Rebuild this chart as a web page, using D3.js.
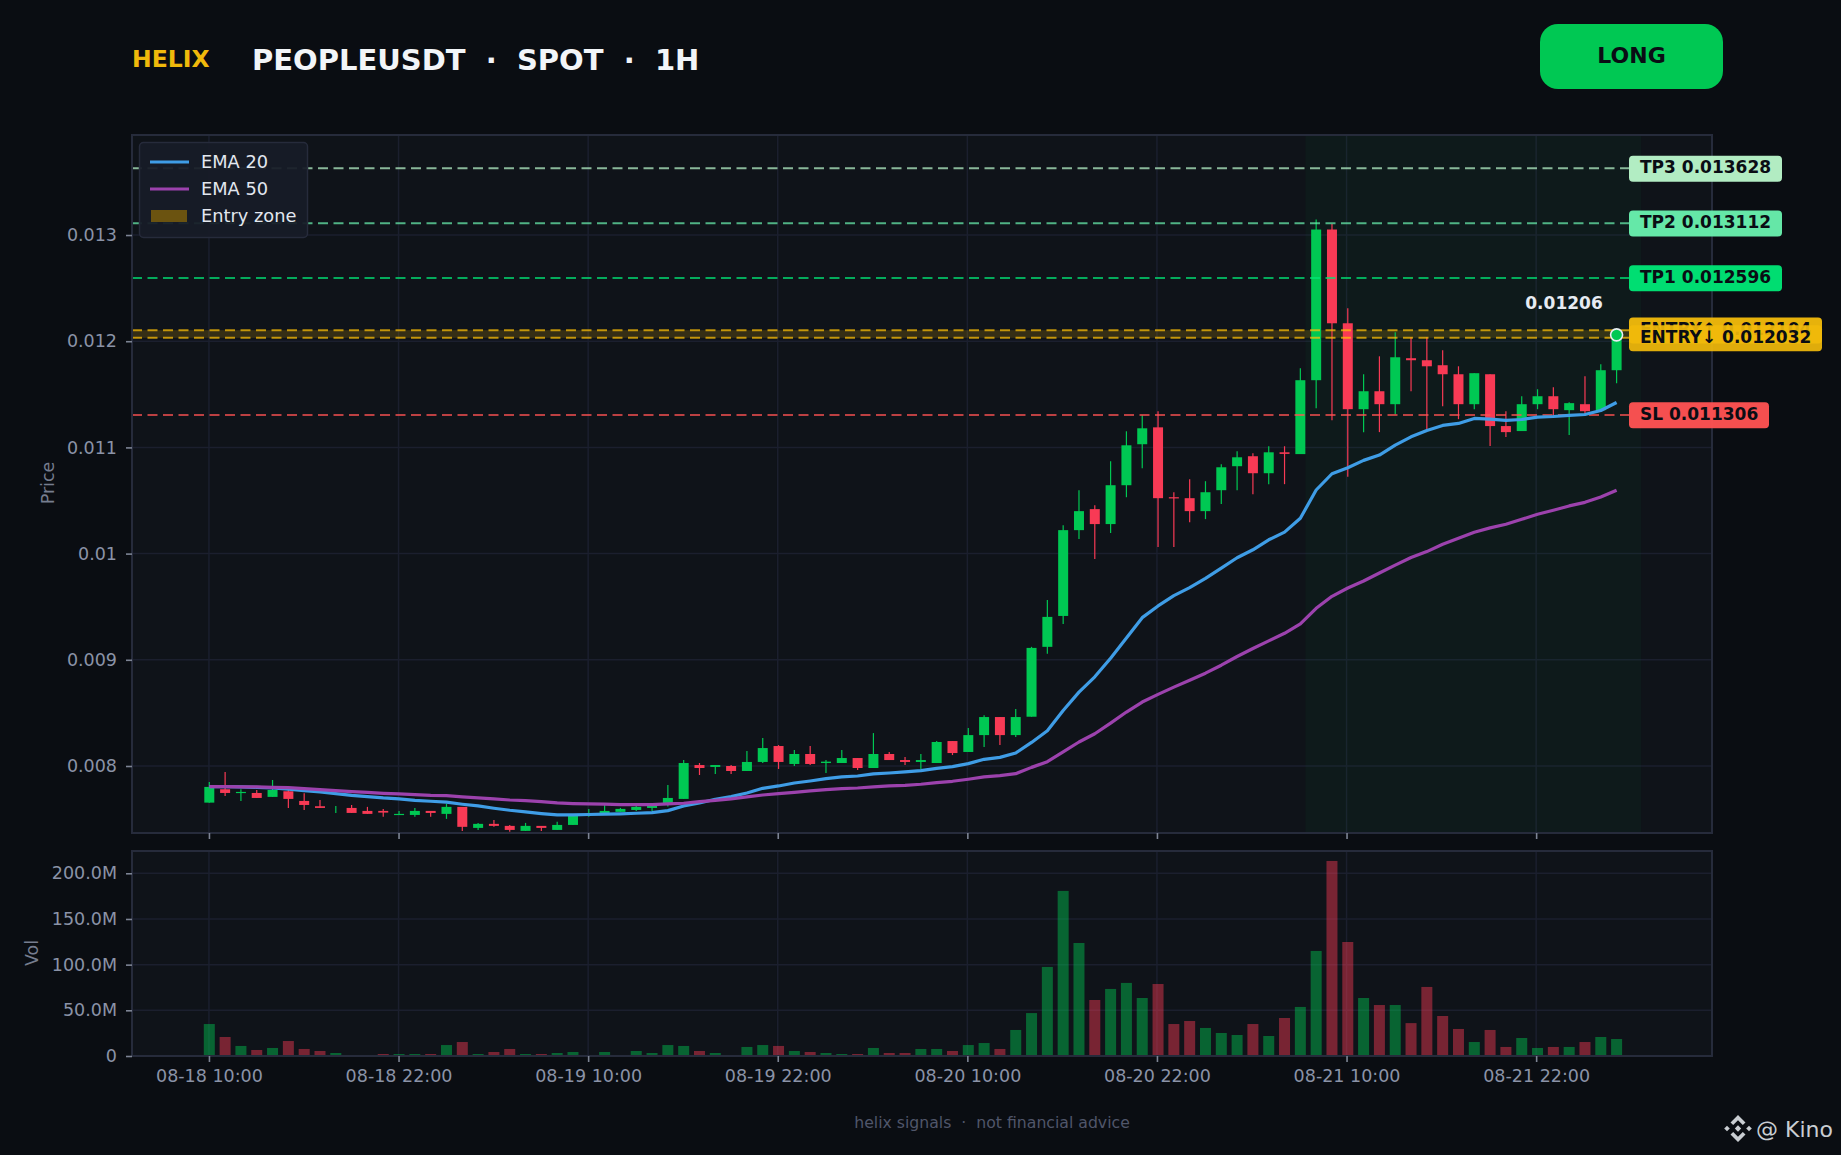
<!DOCTYPE html>
<html><head><meta charset="utf-8">
<script src="https://cdn.jsdelivr.net/npm/d3@7"></script>
<style>
html,body{margin:0;padding:0;background:#0a0d12;}
svg{display:block;font-family:"DejaVu Sans",sans-serif;}
</style></head><body>
<svg id="c" width="1841" height="1155"></svg>
<script>
// prices in millionths (0.008 = 8000)
const opens=[7655,7781,7749,7746,7709,7762,7671,7621,7586,7605,7577,7577,7539,7539,7577,7549,7615,7417,7455,7436,7389,7436,7398,7445,7539,7549,7568,7586,7605,7652,
7690,8009,7991,8000,7953,8038,8188,8019,8113,8028,8028,8075,7981,8113,8056,8038,8028,8235,8132,8291,8461,8291,8464,9122,9413,10221,10419,10278,10644,11030,
11189,10531,10522,10400,10597,10823,10917,10757,10954,10937,11633,13052,12169,11360,11529,11407,11840,11821,11774,11689,11407,11689,11201,11154,11407,11482,11351,11407,11351,11727];
const highs=[7850,7944,7781,7774,7868,7774,7743,7680,7624,7633,7615,7596,7577,7605,7577,7643,7615,7464,7492,7445,7464,7436,7474,7549,7596,7633,7605,7633,7643,7821,
8056,8028,8009,8009,8141,8263,8197,8150,8188,8056,8150,8075,8310,8132,8085,8113,8235,8235,8357,8479,8461,8536,9122,9563,10268,10597,10456,10870,11152,11302,
11340,10578,10701,10682,10842,10964,10945,11011,11011,11746,13146,13105,12310,11689,11858,12084,12037,12037,11915,11764,11699,11689,11341,11482,11548,11567,11426,11670,11783,12060];
const lows=[7655,7718,7671,7699,7709,7605,7586,7605,7558,7558,7549,7521,7539,7521,7521,7502,7389,7398,7427,7380,7389,7389,7398,7445,7521,7549,7568,7577,7577,7618,
7690,7915,7925,7925,7953,8028,7972,8000,8009,7934,8028,7962,7981,8056,8009,7972,8028,8103,8132,8179,8197,8273,8464,9056,9338,10137,9949,10193,10531,10804,
10062,10062,10296,10325,10466,10597,10560,10654,10654,10937,11370,11257,10724,11144,11144,11313,11529,11163,11388,11266,11360,11013,11097,11154,11360,11276,11116,11304,11341,11605];
const closes=[7803,7746,7756,7699,7774,7690,7633,7605,7586,7558,7549,7561,7549,7577,7558,7615,7427,7455,7436,7398,7436,7417,7445,7530,7549,7577,7596,7615,7624,7699,
8028,7981,8009,7953,8038,8169,8038,8113,8019,8041,8075,7981,8113,8056,8038,8056,8226,8122,8291,8461,8291,8461,9112,9404,10221,10400,10278,10644,11020,11180,
10522,10522,10400,10578,10813,10907,10757,10954,10939,11633,13052,12169,11360,11529,11407,11849,11821,11764,11689,11407,11699,11201,11144,11407,11482,11360,11417,11341,11727,12060];
const volumes=[35,20.8,11,6.6,8.8,16.4,7.7,5.5,3.3,0.7,0.7,2.2,2.2,2.2,2.2,12,15.3,2.2,4.4,7.7,2.2,2.2,3.3,4.4,0.7,4.4,0.7,5.5,3.3,12,
11,5.5,3.3,0.7,9.9,12,11,5.5,4.4,3.3,2.2,2.2,8.8,3.3,3.3,7.7,7.7,5.5,12,14.2,7.7,28.5,47,97.5,180.7,123.7,61.3,73.4,80,63.5,
78.8,35,38.3,30.7,25.2,23,35,21.9,41.6,53.7,115,213.5,124.8,63.5,55.8,55.8,36,75.6,43.8,29.6,15.3,28.5,9.9,19.7,8.8,9.9,9.9,15.3,20.8,18.6];
const ema20=[7806,7806,7803,7799,7793,7781,7768,7756,7740,7724,7712,7699,7690,7677,7668,7659,7640,7624,7602,7583,7568,7552,7539,7539,7543,7546,7549,7555,7561,7580,
7624,7652,7687,7712,7746,7790,7812,7840,7859,7881,7897,7906,7925,7934,7944,7956,7978,7994,8022,8063,8081,8122,8222,8332,8523,8696,8840,9015,9206,9397,
9507,9604,9679,9767,9864,9961,10036,10130,10202,10333,10599,10752,10809,10878,10928,11022,11100,11160,11207,11226,11273,11266,11254,11263,11285,11291,11301,11310,11348,11423];
const ema50=[7806,7806,7803,7803,7799,7796,7787,7778,7768,7759,7752,7743,7737,7731,7724,7721,7709,7699,7690,7680,7674,7665,7652,7646,7643,7640,7637,7637,7637,7643,
7649,7665,7677,7690,7709,7727,7740,7752,7765,7778,7787,7793,7803,7812,7818,7828,7843,7856,7875,7897,7909,7928,7987,8041,8132,8226,8304,8404,8508,8602,
8674,8743,8808,8874,8949,9031,9106,9178,9250,9338,9485,9598,9676,9742,9817,9892,9963,10019,10088,10145,10201,10242,10276,10323,10370,10408,10449,10483,10533,10596];
const priceTicks=[8000,9000,10000,11000,12000,13000];
const priceTickLabels=["0.008","0.009","0.01","0.011","0.012","0.013"];
const volTicks=[0,50,100,150,200];
const volTickLabels=["0","50.0M","100.0M","150.0M","200.0M"];
const timeTicks=[0,12,24,36,48,60,72,84];
const timeTickLabels=["08-18 10:00","08-18 22:00","08-19 10:00","08-19 22:00","08-20 10:00","08-20 22:00","08-21 10:00","08-21 22:00"];
const levelNames=["TP3 0.013628","TP2 0.013112","TP1 0.012596","ENTRY↑ 0.012104","ENTRY↓ 0.012032","SL 0.011306"];
const levelValues=[13628,13112,12596,12104,12032,11306];
const levelLineColors=["#b9f6ca","#69f0ae","#00e676","#ffc107","#ffc107","#ff5252"];
const levelBoxColors=["#b9f6ca","#69f0ae","#00e676","#f0b90b","#f0b90b","#ff5252"];
const signalZone=[69.4,90.65];
const lastPrice=12060, lastLabel="0.01206";

const UP="#00c853", DOWN="#f83a55";
const L=132,R=1712,T=135,B=833,VT=851,VB=1056;
const svg=d3.select("#c");
const x=d3.scaleLinear().domain([-4.87,95.13]).range([L,R]);
const xc=d3.scaleLinear().domain([0,89]).range([209.3,1616.6]); // candle centres
const y=d3.scaleLinear().domain([7369,13942]).range([B,T]);
const v=d3.scaleLinear().domain([0,224.4]).range([VB,VT]);

svg.append("rect").attr("width",1841).attr("height",1155).attr("fill","#0a0d12");
svg.append("rect").attr("x",L).attr("y",T).attr("width",R-L).attr("height",B-T).attr("fill","#0f1319");
svg.append("rect").attr("x",L).attr("y",VT).attr("width",R-L).attr("height",VB-VT).attr("fill","#0f1319");

const GRID="#1b1f2e",FRAME="#262b3b",TXT="#8b93a7";
const grid=svg.append("g").attr("stroke",GRID).attr("stroke-width",1.5).attr("fill","none");
grid.selectAll(".gx").data(timeTicks).join("path").attr("d",d=>`M${x(d)},${T}V${B}M${x(d)},${VT}V${VB}`);
grid.selectAll(".gy").data(priceTicks).join("line").attr("x1",L).attr("x2",R).attr("y1",d=>y(d)).attr("y2",d=>y(d));
grid.selectAll(".gv").data(volTicks.slice(1)).join("line").attr("x1",L).attr("x2",R).attr("y1",d=>v(d)).attr("y2",d=>v(d));

svg.append("rect").attr("x",x(signalZone[0])).attr("width",x(signalZone[1])-x(signalZone[0])).attr("y",T).attr("height",B-T).attr("fill","#00c853").attr("fill-opacity",0.04);
svg.append("rect").attr("x",L).attr("width",R-L).attr("y",y(levelValues[3])).attr("height",y(levelValues[4])-y(levelValues[3])).attr("fill","#ffc107").attr("fill-opacity",0.16);

const idx=d3.range(closes.length);
const colorOf=i=>closes[i]>=opens[i]?UP:DOWN;
const cg=svg.append("g");
cg.selectAll(".w").data(idx).join("line").attr("x1",i=>xc(i)).attr("x2",i=>xc(i)).attr("y1",i=>y(highs[i])).attr("y2",i=>y(lows[i])).attr("stroke",colorOf).attr("stroke-width",1.2);
cg.selectAll(".b").data(idx).join("rect").attr("x",i=>xc(i)-5).attr("width",10)
 .attr("y",i=>y(Math.max(opens[i],closes[i]))).attr("height",i=>Math.max(Math.abs(y(opens[i])-y(closes[i])),i===8?0:1.2)).attr("fill",colorOf);

svg.append("g").selectAll("line").data(levelValues).join("line").attr("x1",L).attr("x2",1629).attr("y1",d=>y(d)).attr("y2",d=>y(d))
 .attr("stroke",(d,i)=>levelLineColors[i]).attr("stroke-width",2).attr("stroke-opacity",.72).attr("stroke-dasharray","10 5.5");

const line=d3.line().x((d,i)=>xc(i)).y(d=>y(d));
svg.append("path").attr("d",line(ema20)).attr("fill","none").attr("stroke","#3f9de6").attr("stroke-width",3.2).attr("stroke-linejoin","round");
svg.append("path").attr("d",line(ema50)).attr("fill","none").attr("stroke","#9c42ad").attr("stroke-width",3.2).attr("stroke-linejoin","round");

svg.append("circle").attr("cx",xc(89)).attr("cy",y(lastPrice)).attr("r",6).attr("fill",UP).attr("stroke","#e8edf2").attr("stroke-width",1.6);
svg.append("text").attr("x",1564).attr("y",y(lastPrice)-32).attr("text-anchor","middle").attr("dominant-baseline","central").attr("font-size",17).attr("font-weight","bold").attr("fill","#e6ebf2").text(lastLabel);

svg.append("g").selectAll("rect").data(idx).join("rect").attr("x",i=>xc(i)-5.5).attr("width",11).attr("y",i=>v(volumes[i])).attr("height",i=>VB-v(volumes[i])).attr("fill",colorOf).attr("fill-opacity",.45);

[[T,B],[VT,VB]].forEach(([a,b])=>svg.append("rect").attr("x",L).attr("y",a).attr("width",R-L).attr("height",b-a).attr("fill","none").attr("stroke",FRAME).attr("stroke-width",2));

function style(g){g.select(".domain").remove();g.selectAll(".tick line").attr("stroke","#7d8494").attr("stroke-width",1.6);g.selectAll("text").attr("fill",TXT).attr("font-size",17.5).attr("font-family",'"DejaVu Sans",sans-serif');}
svg.append("g").attr("transform",`translate(${L},0)`).call(d3.axisLeft(y).tickValues(priceTicks).tickFormat((d,i)=>priceTickLabels[i]).tickSize(6).tickPadding(9)).call(style);
svg.append("g").attr("transform",`translate(${L},0)`).call(d3.axisLeft(v).tickValues(volTicks).tickFormat((d,i)=>volTickLabels[i]).tickSize(6).tickPadding(9)).call(style);
svg.append("g").attr("transform",`translate(0,${B})`).call(d3.axisBottom(x).tickValues(timeTicks).tickFormat("").tickSize(6)).call(style);
svg.append("g").attr("transform",`translate(0,${VB})`).call(d3.axisBottom(x).tickValues(timeTicks).tickFormat((d,i)=>timeTickLabels[i]).tickSize(6).tickPadding(8)).call(style);
svg.append("text").attr("transform","translate(48,483) rotate(-90)").attr("text-anchor","middle").attr("dominant-baseline","central").attr("font-size",17.5).attr("fill","#767d8f").text("Price");
svg.append("text").attr("transform","translate(32,953) rotate(-90)").attr("text-anchor","middle").attr("dominant-baseline","central").attr("font-size",17.5).attr("fill","#767d8f").text("Vol");

const labels=svg.append("g");
const boxW=[153,153,153,193,193,140];
levelNames.forEach((n,i)=>{
  const h=26,cy=y(levelValues[i])+0.3;
  labels.append("rect").attr("x",1629).attr("y",cy-h/2).attr("width",boxW[i]).attr("height",h).attr("rx",4).attr("fill",levelBoxColors[i]).attr("fill-opacity",i==4?.93:.96);
  labels.append("text").attr("x",1640).attr("y",cy-1.3).attr("dominant-baseline","central").attr("font-size",17).attr("font-weight","bold").attr("fill","#0a0d14").text(n);
});

svg.append("rect").attr("x",139.5).attr("y",142.5).attr("width",168).attr("height",95).attr("rx",4).attr("fill","#171c27").attr("fill-opacity",.94).attr("stroke","#262b3b").attr("stroke-width",1.5);
const legendNames=["EMA 20","EMA 50","Entry zone"], ly2=[161.5,188.5,215.5];
svg.append("line").attr("x1",150).attr("x2",189).attr("y1",162).attr("y2",162).attr("stroke","#3f9de6").attr("stroke-width",3);
svg.append("line").attr("x1",150).attr("x2",189).attr("y1",189).attr("y2",189).attr("stroke","#9c42ad").attr("stroke-width",3);
svg.append("rect").attr("x",151).attr("y",210).attr("width",36).attr("height",12).attr("fill","#6b5310");
legendNames.forEach((n,i)=>svg.append("text").attr("x",201).attr("y",ly2[i]).attr("dominant-baseline","central").attr("font-size",17.8).attr("fill","#e2e7ef").text(n));

svg.append("text").attr("x",132).attr("y",58.5).attr("dominant-baseline","central").attr("font-size",23.5).attr("font-weight","bold").attr("fill","#f0b90b").text("HELIX");
svg.append("text").attr("x",252).attr("y",60).attr("dominant-baseline","central").attr("font-size",29).attr("font-weight","bold").attr("fill","#f2f5f8").text("PEOPLEUSDT  ·  SPOT  ·  1H").style("white-space","pre");
svg.append("rect").attr("x",1540).attr("y",24).attr("width",183).attr("height",65).attr("rx",18).attr("fill","#00c853");
svg.append("text").attr("x",1631.5).attr("y",55).attr("text-anchor","middle").attr("dominant-baseline","central").attr("font-size",22).attr("font-weight","bold").attr("fill","#0a0d14").text("LONG");

svg.append("text").attr("x",992).attr("y",1122).attr("text-anchor","middle").attr("dominant-baseline","central").attr("font-size",15.7).attr("fill","#50566a").text("helix signals  ·  not financial advice").style("white-space","pre");

const wm=svg.append("g").attr("transform","translate(1738,1128.5)").attr("fill","#c9cdd2");
wm.append("path").attr("d","M0,-13.5L7.5,-6L4.8,-3.4L0,-8.2L-4.8,-3.4L-7.5,-6Z");
wm.append("path").attr("d","M0,13.5L7.5,6L4.8,3.4L0,8.2L-4.8,3.4L-7.5,6Z");
wm.append("path").attr("d","M0,-3.2L3.2,0L0,3.2L-3.2,0Z");
wm.append("path").attr("d","M-11,-2.8L-8.2,0L-11,2.8L-13.8,0Z");
wm.append("path").attr("d","M11,-2.8L13.8,0L11,2.8L8.2,0Z");
svg.append("text").attr("x",1756).attr("y",1129).attr("dominant-baseline","central").attr("font-size",22).attr("fill","#c9cdd2").text("@ Kino");
</script>
</body></html>
